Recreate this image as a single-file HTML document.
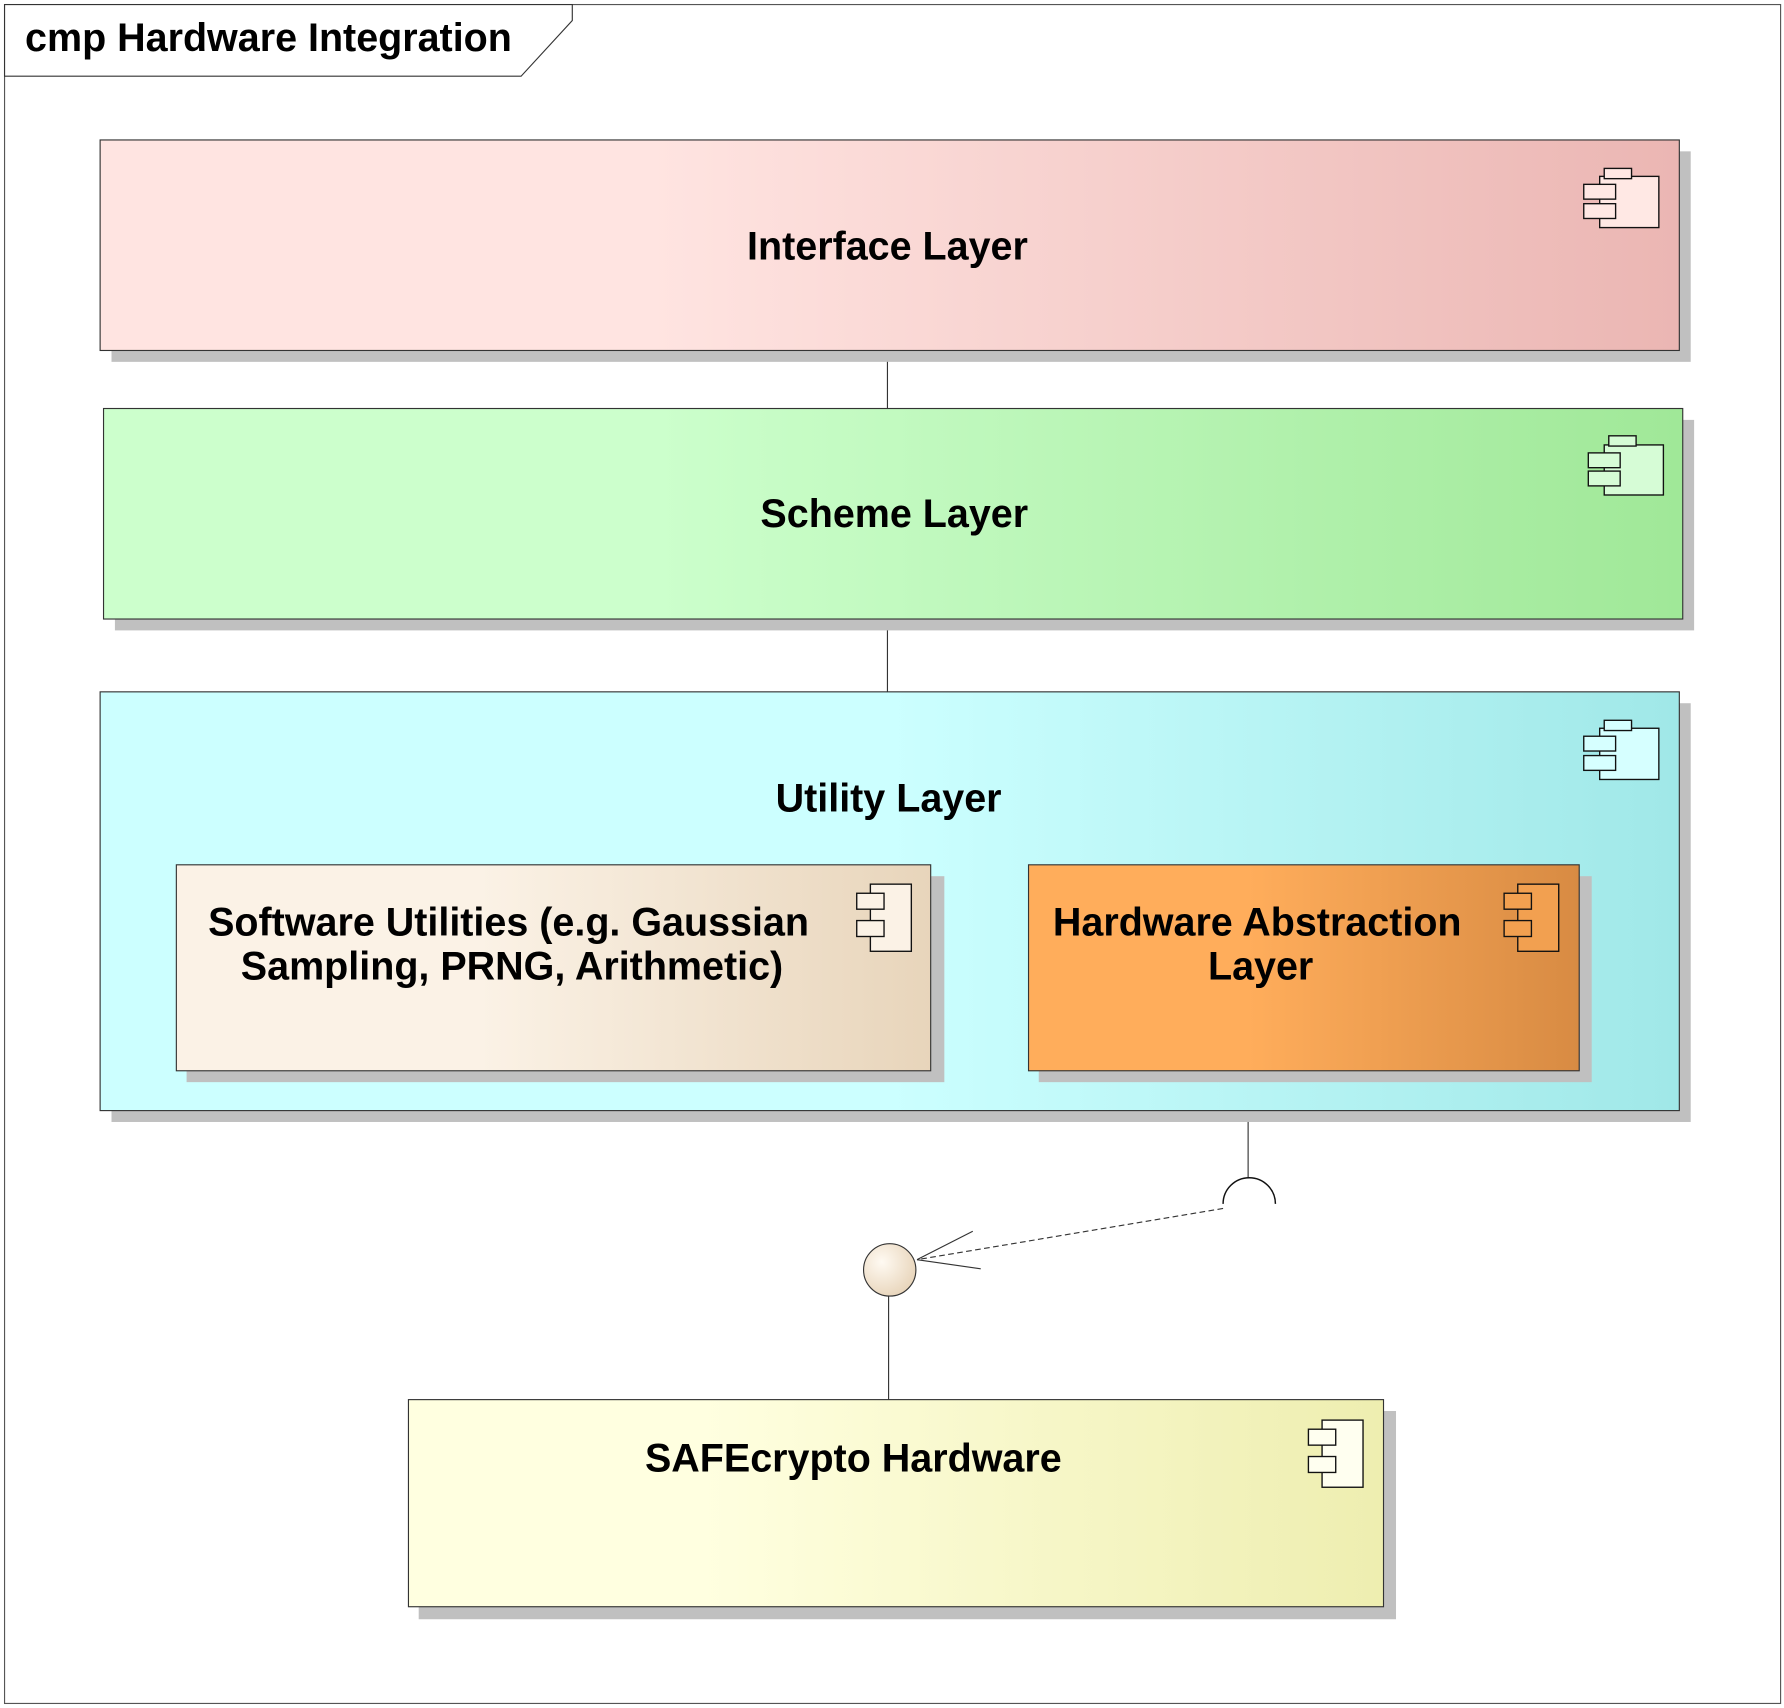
<!DOCTYPE html>
<html><head><meta charset="utf-8"><style>html,body{margin:0;padding:0;background:#fff}svg{display:block}</style></head>
<body>
<svg width="1784" height="1708" viewBox="0 0 1568 1501" preserveAspectRatio="none" xmlns="http://www.w3.org/2000/svg" font-family="Liberation Sans, sans-serif" font-weight="bold">
<defs>
<linearGradient id="g1"><stop offset="0.35" stop-color="#ffe4e1"/><stop offset="1" stop-color="#ebb6b3"/></linearGradient>
<linearGradient id="g2"><stop offset="0.35" stop-color="#ccffcc"/><stop offset="1" stop-color="#a0e898"/></linearGradient>
<linearGradient id="g3"><stop offset="0.5" stop-color="#ccffff"/><stop offset="1" stop-color="#a0e8e8"/></linearGradient>
<linearGradient id="g4"><stop offset="0.4" stop-color="#fbf2e6"/><stop offset="1" stop-color="#e8d5bb"/></linearGradient>
<linearGradient id="g5"><stop offset="0.4" stop-color="#ffad5b"/><stop offset="1" stop-color="#d88b43"/></linearGradient>
<linearGradient id="g6"><stop offset="0.3" stop-color="#ffffe0"/><stop offset="1" stop-color="#eeeeb0"/></linearGradient>
<radialGradient id="gc" cx="0.35" cy="0.35" r="0.7"><stop offset="0" stop-color="#fffaf2"/><stop offset="1" stop-color="#e8d5bb"/></radialGradient>
</defs>
<rect x="4" y="4" width="1561" height="1493" fill="none" stroke="#555" stroke-width="1"/>
<polygon points="4,4 503,4 503,18 458,67 4,67" fill="#fff" stroke="#333" stroke-width="1"/>
<text x="22" y="45" font-size="34.7">cmp Hardware Integration</text>

<g stroke="#333" stroke-width="1">
<line x1="780" y1="308" x2="780" y2="359"/>
<line x1="780" y1="544" x2="780" y2="608"/>
<line x1="1097" y1="941" x2="1097" y2="1035"/>
<line x1="781" y1="1139" x2="781" y2="1230"/>
</g>

<rect x="98" y="133" width="1388" height="185" fill="#c0c0c0"/>
<rect x="88" y="123" width="1388" height="185" fill="url(#g1)" stroke="#333"/>
<text x="780" y="228" font-size="34.7" text-anchor="middle">Interface Layer</text>

<rect x="101" y="369" width="1388" height="185" fill="#c0c0c0"/>
<rect x="91" y="359" width="1388" height="185" fill="url(#g2)" stroke="#333"/>
<text x="786" y="463" font-size="34.7" text-anchor="middle">Scheme Layer</text>

<rect x="98" y="618" width="1388" height="368" fill="#c0c0c0"/>
<rect x="88" y="608" width="1388" height="368" fill="url(#g3)" stroke="#333"/>
<text x="781" y="713" font-size="34.7" text-anchor="middle">Utility Layer</text>

<rect x="164" y="770" width="666" height="181" fill="#c0c0c0"/>
<rect x="155" y="760" width="663" height="181" fill="url(#g4)" stroke="#333"/>
<text x="447" y="822" font-size="34.7" text-anchor="middle">Software Utilities (e.g. Gaussian</text>
<text x="450" y="861" font-size="34.7" text-anchor="middle">Sampling, PRNG, Arithmetic)</text>

<rect x="913" y="770" width="486" height="181" fill="#c0c0c0"/>
<rect x="904" y="760" width="484" height="181" fill="url(#g5)" stroke="#333"/>
<text x="1105" y="822" font-size="34.7" text-anchor="middle">Hardware Abstraction</text>
<text x="1108" y="861" font-size="34.7" text-anchor="middle">Layer</text>

<rect x="368" y="1240" width="859" height="183" fill="#c0c0c0"/>
<rect x="359" y="1230" width="857" height="182" fill="url(#g6)" stroke="#333"/>
<text x="750" y="1293" font-size="34.7" text-anchor="middle">SAFEcrypto Hardware</text>

<g stroke="#111" stroke-width="1.2" fill="#ffe8e4">
<rect x="1406" y="155" width="52" height="45"/><rect x="1410" y="148" width="24" height="9"/><rect x="1392" y="162" width="28" height="13"/><rect x="1392" y="179" width="28" height="13"/>
</g>
<g stroke="#111" stroke-width="1.2" fill="#d6fcd6">
<rect x="1410" y="391" width="52" height="44"/><rect x="1414" y="383" width="24" height="9"/><rect x="1396" y="398" width="28" height="13"/><rect x="1396" y="414" width="28" height="13"/>
</g>
<g stroke="#111" stroke-width="1.2" fill="#d6ffff">
<rect x="1406" y="640" width="52" height="45"/><rect x="1410" y="633" width="24" height="9"/><rect x="1392" y="647" width="28" height="13"/><rect x="1392" y="664" width="28" height="13"/>
</g>
<g stroke="#111" stroke-width="1.2" fill="#fbf2e6">
<rect x="765" y="777" width="36" height="59"/><rect x="753" y="785" width="24" height="14"/><rect x="753" y="809" width="24" height="14"/>
</g>
<g stroke="#111" stroke-width="1.2" fill="#f2a050">
<rect x="1334" y="777" width="36" height="59"/><rect x="1322" y="785" width="24" height="14"/><rect x="1322" y="809" width="24" height="14"/>
</g>
<g stroke="#111" stroke-width="1.2" fill="#fffff0">
<rect x="1162" y="1248" width="36" height="59"/><rect x="1150" y="1256" width="24" height="14"/><rect x="1150" y="1280" width="24" height="14"/>
</g>

<path d="M1075,1058 A23,23 0 0 1 1121,1058" fill="none" stroke="#111" stroke-width="1.3"/>
<line x1="1075" y1="1062" x2="806" y2="1107" stroke="#333" stroke-dasharray="5,3"/>
<line x1="806" y1="1107" x2="855" y2="1082" stroke="#333"/>
<line x1="806" y1="1107" x2="862" y2="1115" stroke="#333"/>
<circle cx="782" cy="1116" r="23" fill="url(#gc)" stroke="#333"/>
</svg>
</body></html>
